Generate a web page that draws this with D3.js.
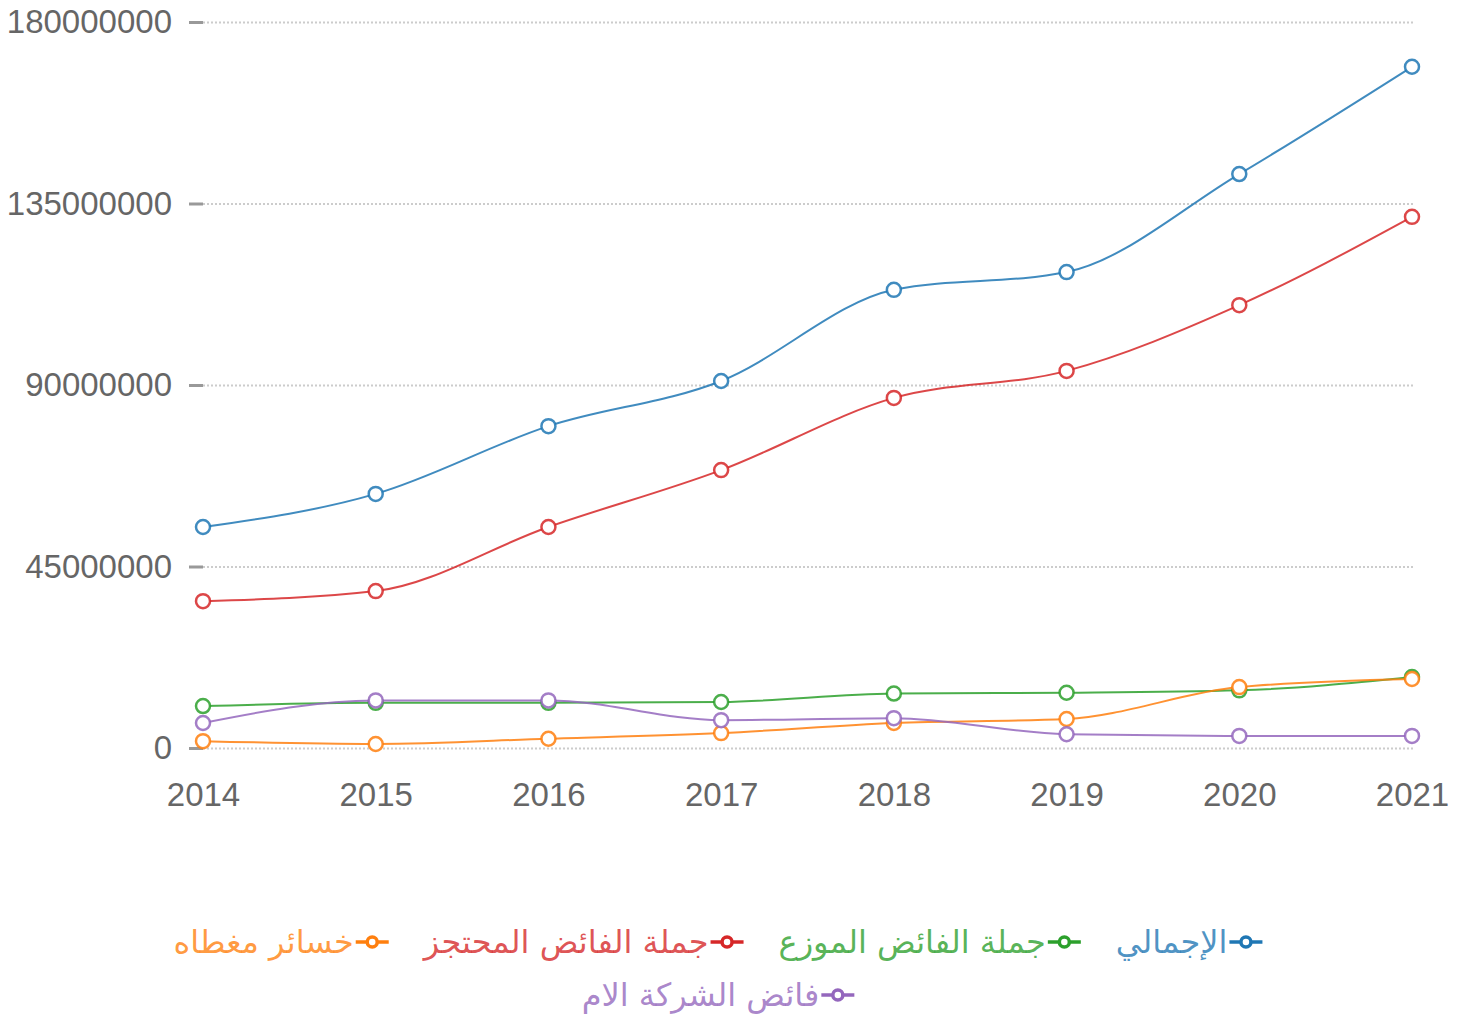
<!DOCTYPE html>
<html>
<head>
<meta charset="utf-8">
<script src="https://cdn.jsdelivr.net/npm/d3@7"></script>
<style>
  body { margin: 0; background: #fff; }
  svg { display: block; }
</style>
</head>
<body>
<div id="chart-area"></div>
<script>
(() => {

  const years = ['2014', '2015', '2016', '2017', '2018', '2019', '2020', '2021'];
  const yTicks = [0, 45000000, 90000000, 135000000, 180000000];

  const seriesNames = ['الإجمالي', 'جملة الفائض الموزع', 'جملة الفائض المحتجز', 'خسائر مغطاه', 'فائض الشركة الام'];
  const seriesColors = ['#1f77b4', '#2ca02c', '#d62728', '#ff7f0e', '#9467bd'];

  const total = [54800000, 63000000, 79800000, 91000000, 113600000, 118000000, 142300000, 168900000];
  const distributed = [10400000, 11200000, 11200000, 11400000, 13500000, 13700000, 14300000, 17600000];
  const retained = [36400000, 38900000, 54800000, 68900000, 86800000, 93500000, 109800000, 131700000];
  const coveredLosses = [1700000, 1000000, 2300000, 3700000, 6200000, 7200000, 15100000, 17100000];
  const parentSurplus = [6200000, 11800000, 11800000, 6900000, 7400000, 3400000, 3000000, 3000000];

  const seriesValues = [total, distributed, retained, coveredLosses, parentSurplus];

  const widthSvg = 1467;
  const heightSvg = 1018;

  const scaleX = d3.scalePoint()
    .domain(years)
    .range([203, 1412]);

  const scaleY = d3.scaleLinear()
    .domain([0, 180000000])
    .range([748, 22]);

  const svg = d3.select('#chart-area')
    .append('svg')
      .attr('width', widthSvg)
      .attr('height', heightSvg);

  // grid + y axis
  const axisY = d3.axisLeft(scaleY)
    .tickValues(yTicks)
    .tickSize(0)
    .tickPadding(31)
    .tickFormat(d3.format('d'));

  const groupAxisY = svg.append('g')
    .attr('transform', 'translate(203, 0)')
    .call(axisY);

  groupAxisY.select('.domain').remove();
  groupAxisY.selectAll('.tick text')
    .attr('fill', '#666')
    .attr('font-family', '"Liberation Sans", Arial, sans-serif')
    .attr('font-size', 33);

  groupAxisY.selectAll('.tick').append('line')
    .attr('x1', -14)
    .attr('x2', 0)
    .attr('stroke', '#999')
    .attr('stroke-width', 3);

  groupAxisY.selectAll('.tick').append('line')
    .attr('x1', 0)
    .attr('x2', 1212)
    .attr('stroke', '#ccc')
    .attr('stroke-width', 2)
    .attr('stroke-dasharray', '2,2');

  // x axis
  const axisX = d3.axisBottom(scaleX)
    .tickSize(0)
    .tickPadding(35);

  const groupAxisX = svg.append('g')
    .attr('transform', 'translate(0, 748)')
    .call(axisX);

  groupAxisX.select('.domain').remove();
  groupAxisX.selectAll('.tick text')
    .attr('fill', '#666')
    .attr('font-family', '"Liberation Sans", Arial, sans-serif')
    .attr('font-size', 33);

  // lines, later series drawn on top
  const line = d3.line()
    .x((d, i) => scaleX(years[i]))
    .y(d => scaleY(d))
    .curve(d3.curveMonotoneX);

  seriesValues.forEach((values, k) => {
    const g = svg.append('g');
    g.append('path')
      .datum(values)
      .attr('fill', 'none')
      .attr('stroke', seriesColors[k])
      .attr('stroke-opacity', 0.85)
      .attr('stroke-width', 2)
      .attr('d', line);

    g.selectAll('circle')
      .data(values)
      .enter()
      .append('circle')
        .attr('cx', (d, i) => scaleX(years[i]))
        .attr('cy', d => scaleY(d))
        .attr('r', 7)
        .attr('fill', '#fff')
        .attr('stroke', seriesColors[k])
        .attr('stroke-opacity', 0.85)
        .attr('stroke-width', 2.5);
  });

  // legend (rtl rows, centred)
  const legendRows = [[0, 1, 2, 3], [4]];
  const rowY = [942, 995];
  const gap = 35;
  const markerW = 33;
  const centerX = 718;

  legendRows.forEach((row, r) => {
    const items = row.map(k => {
      const item = svg.append('g');
      const txt = item.append('text')
        .attr('text-anchor', 'end')
        .attr('dominant-baseline', 'central')
        .attr('font-family', '"DejaVu Sans", sans-serif')
        .attr('font-size', 32)
        .attr('fill', seriesColors[k])
        .attr('fill-opacity', 0.8)
        .text(seriesNames[k]);
      const w = txt.node().getComputedTextLength() + markerW + 2;
      return { item, txt, k, w };
    });

    const totalW = d3.sum(items, d => d.w) + gap * (items.length - 1);
    let right = centerX + totalW / 2;

    items.forEach(d => {
      d.item.attr('transform', `translate(${right}, ${rowY[r]})`);
      d.txt.attr('x', -markerW - 2);
      d.item.append('line')
        .attr('x1', -markerW)
        .attr('x2', 0)
        .attr('stroke', seriesColors[d.k])
        .attr('stroke-width', 3.5);
      d.item.append('circle')
        .attr('cx', -markerW / 2)
        .attr('r', 5)
        .attr('fill', '#fff')
        .attr('stroke', seriesColors[d.k])
        .attr('stroke-width', 3.5);
      right -= d.w + gap;
    });
  });

})();
</script>
</body>
</html>
